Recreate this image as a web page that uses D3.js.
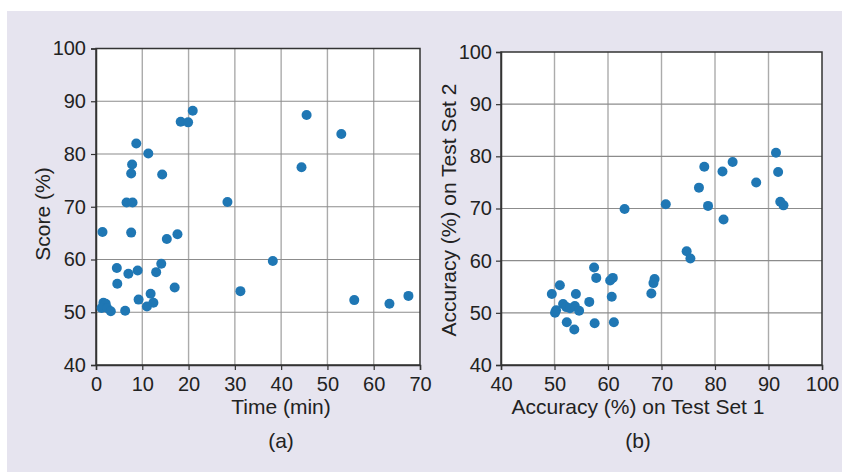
<!DOCTYPE html>
<html>
<head>
<meta charset="utf-8">
<script src="https://cdn.jsdelivr.net/npm/d3@7"></script>
<style>
  body { margin: 0; background: #fff; }
  svg { display: block; font-family: "Liberation Sans", Arial, sans-serif; }
</style>
</head>
<body>
<svg id="chart" width="842" height="472"></svg>
<script>
// panel (a): time vs score
const timeMin = [20.9, 18.3, 19.9, 45.5, 53.0, 8.7, 11.3, 44.4, 7.8, 7.6, 14.3, 6.6, 7.9, 28.4,
  1.4, 7.6, 15.3, 17.6, 38.2, 4.5, 14.1, 9.0, 7.0, 13.0, 4.6, 17.0, 31.2, 11.8, 9.2, 12.4,
  11.0, 55.8, 63.4, 67.5, 6.3, 1.6, 2.1, 1.2, 2.4, 3.2];
const scorePct = [88.2, 86.1, 86.0, 87.4, 83.8, 82.0, 80.1, 77.5, 78.0, 76.3, 76.1, 70.8, 70.8, 70.9,
  65.2, 65.1, 63.9, 64.8, 59.7, 58.4, 59.2, 57.9, 57.3, 57.6, 55.4, 54.7, 54.0, 53.5, 52.4, 51.8,
  51.1, 52.3, 51.6, 53.1, 50.3, 51.8, 51.6, 50.8, 50.8, 50.2];

// panel (b): accuracy set 1 vs set 2
const accSet1 = [63.1, 70.8, 77.0, 78.0, 78.7, 81.4, 81.6, 83.3, 87.7, 91.4, 91.8, 92.2, 92.8,
  74.7, 75.4, 57.4, 57.8, 60.4, 60.9, 68.7, 68.5, 68.1, 51.0, 49.5, 54.0, 56.5, 60.7,
  51.6, 52.2, 52.9, 53.8, 54.6, 50.3, 50.1, 52.3, 53.7, 57.5, 61.1];
const accSet2 = [69.9, 70.8, 74.0, 78.0, 70.5, 77.1, 67.9, 78.9, 75.0, 80.7, 77.0, 71.3, 70.6,
  61.8, 60.4, 58.7, 56.7, 56.2, 56.7, 56.5, 55.7, 53.7, 55.3, 53.6, 53.6, 52.1, 53.1,
  51.7, 51.1, 50.9, 51.3, 50.4, 50.5, 50.0, 48.2, 46.8, 48.0, 48.2];

const xTicksA = [0, 10, 20, 30, 40, 50, 60, 70];
const yTicks = [40, 50, 60, 70, 80, 90, 100];
const xTicksB = [40, 50, 60, 70, 80, 90, 100];

const svg = d3.select('#chart');

svg.append('rect')
  .attr('x', 7).attr('y', 11)
  .attr('width', 835).attr('height', 461)
  .attr('fill', '#e6e4ef');

function panel(opts) {
  const x = d3.scaleLinear().domain(opts.xDomain).range([opts.left, opts.right]);
  const y = d3.scaleLinear().domain([40, 100]).range([opts.bottom, opts.top]);
  const g = svg.append('g');

  g.append('rect')
    .attr('x', opts.left).attr('y', opts.top)
    .attr('width', opts.right - opts.left).attr('height', opts.bottom - opts.top)
    .attr('fill', '#fff');

  // grid
  g.append('g').selectAll('line')
    .data(opts.xTicks.slice(1, -1))
    .join('line')
    .attr('x1', d => x(d)).attr('x2', d => x(d))
    .attr('y1', opts.top).attr('y2', opts.bottom)
    .attr('stroke', '#ababab').attr('stroke-width', 1.4);
  g.append('g').selectAll('line')
    .data(yTicks.slice(1, -1))
    .join('line')
    .attr('x1', opts.left).attr('x2', opts.right)
    .attr('y1', d => y(d)).attr('y2', d => y(d))
    .attr('stroke', '#8c8c8c').attr('stroke-width', 1.2);

  // frame
  g.append('rect')
    .attr('x', opts.left).attr('y', opts.top)
    .attr('width', opts.right - opts.left).attr('height', opts.bottom - opts.top)
    .attr('fill', 'none').attr('stroke', '#333').attr('stroke-width', 1.5);

  const bottomAxis = d3.axisBottom(x).tickValues(opts.xTicks).tickSize(5).tickPadding(7);
  const leftAxis = d3.axisLeft(y).tickValues(yTicks).tickSize(5).tickPadding(opts.yPad);

  const ax = g.append('g')
    .attr('transform', `translate(0, ${opts.bottom})`)
    .call(bottomAxis);
  const ay = g.append('g')
    .attr('transform', `translate(${opts.left}, 0)`)
    .call(leftAxis);
  [ax, ay].forEach(a => {
    a.select('.domain').attr('stroke', '#333').attr('stroke-width', 1.5);
    a.selectAll('.tick line').attr('stroke', '#333').attr('stroke-width', 1.2);
    a.selectAll('text').attr('font-size', 20).attr('fill', '#222')
      .attr('font-family', '"Liberation Sans", Arial, sans-serif');
  });

  g.append('g').selectAll('circle')
    .data(opts.xs.map((v, i) => [v, opts.ys[i]]))
    .join('circle')
    .attr('cx', d => x(d[0]))
    .attr('cy', d => y(d[1]))
    .attr('r', 5)
    .attr('fill', '#1f77b4');

  g.append('text')
    .attr('x', opts.titleX)
    .attr('y', 414)
    .attr('text-anchor', 'middle')
    .attr('font-size', 21).attr('fill', '#222')
    .text(opts.xTitle);

  g.append('text')
    .attr('transform', `translate(${opts.yTitleX}, ${opts.yTitleY}) rotate(-90)`)
    .attr('text-anchor', 'middle')
    .attr('font-size', 21).attr('fill', '#222')
    .text(opts.yTitle);

  g.append('text')
    .attr('x', opts.titleX)
    .attr('y', 448)
    .attr('text-anchor', 'middle')
    .attr('font-size', 21).attr('fill', '#222')
    .text(opts.label);
}

panel({
  xDomain: [0, 70], xTicks: xTicksA,
  left: 96, right: 420, top: 48.5, bottom: 365, yPad: 5,
  xs: timeMin, ys: scorePct,
  xTitle: 'Time (min)', titleX: 281,
  yTitle: 'Score (%)', yTitleX: 50, yTitleY: 214,
  label: '(a)'
});

panel({
  xDomain: [40, 100], xTicks: xTicksB,
  left: 501, right: 822, top: 52, bottom: 365, yPad: 4,
  xs: accSet1, ys: accSet2,
  xTitle: 'Accuracy (%) on Test Set 1', titleX: 638,
  yTitle: 'Accuracy (%) on Test Set 2', yTitleX: 456, yTitleY: 210,
  label: '(b)'
});
</script>
</body>
</html>
